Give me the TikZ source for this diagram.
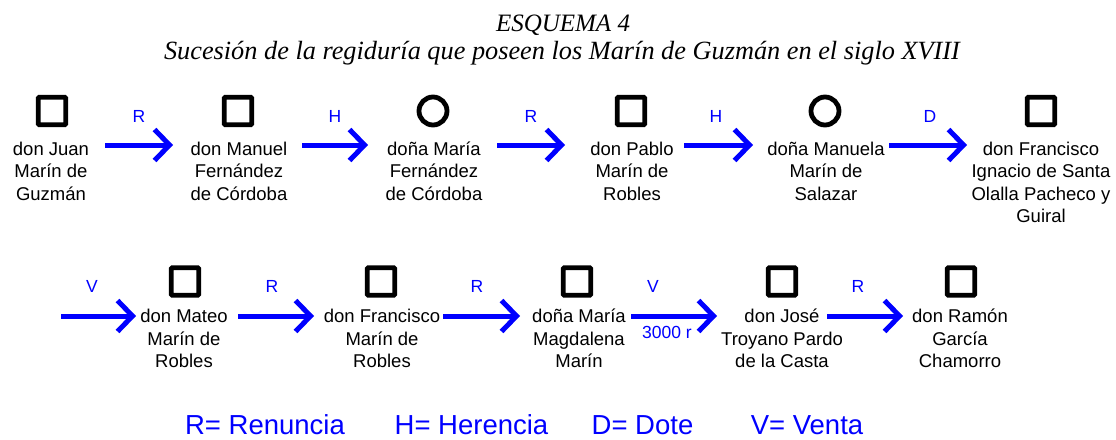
\documentclass[tikz,border=0pt]{standalone}
\usepackage{fontspec}
\setmainfont{Liberation Serif}
\newfontfamily\arialf{Liberation Sans}
\usetikzlibrary{arrows.meta}
\definecolor{myblue}{RGB}{0,0,255}
\begin{document}
\begin{tikzpicture}[x=1pt,y=-1pt,
  person/.style={anchor=north,align=center,inner sep=0pt,
    font=\arialf\fontsize{18.5}{22.5}\selectfont},
  sq/.style={draw,line width=4.8pt,minimum size=27.5pt,inner sep=0pt,rounded corners=1pt},
  circ/.style={draw,circle,line width=4.8pt,minimum size=28pt,inner sep=0pt},
  arr/.style={draw=myblue,line width=5pt,-{Straight Barb[length=15pt,width=31pt,line cap=butt,line join=miter]}},
  lab/.style={anchor=base,inner sep=0pt,text=myblue,font=\arialf\fontsize{17.5}{20}\selectfont},
  leg/.style={anchor=base,inner sep=0pt,text=myblue,font=\arialf\fontsize{27.5}{32}\selectfont},
  ttl/.style={anchor=base,inner sep=0pt,font=\itshape\fontsize{25}{30}\selectfont}]
\useasboundingbox (0,0) rectangle (1116,439);
% titles
\node[ttl] (t1) at (563,31) {ESQUEMA 4};
\node[ttl,font=\itshape\fontsize{26.3}{30}\selectfont] (t2) at (562,59) {Sucesión de la regiduría que poseen los Marín de Guzmán en el siglo XVIII};
% row 1 symbols
\node[sq] (s1) at (52,111) {};
\node[sq] (s2) at (238,111) {};
\node[circ] (s3) at (433,111) {};
\node[sq] (s4) at (631,111) {};
\node[circ] (s5) at (825,111) {};
\node[sq] (s6) at (1041,111) {};
% row 1 persons
\node[person] (p1) at (51,139.25) {\strut don Juan\\Marín de\\Guzmán};
\node[person] (p2) at (239,139.25) {\strut don Manuel\\Fernández\\de Córdoba};
\node[person] (p3) at (434,139.25) {\strut doña María\\Fernández\\de Córdoba};
\node[person] (p4) at (632,139.25) {\strut don Pablo\\Marín de\\Robles};
\node[person] (p5) at (826,139.25) {\strut doña Manuela\\Marín de\\Salazar};
\node[person] (p6) at (1041,139.25) {\strut don Francisco\\Ignacio de Santa\\Olalla Pacheco y\\Guiral};
% row 2 symbols
\node[sq] (s7) at (185,281.5) {};
\node[sq] (s8) at (381,281.5) {};
\node[sq] (s9) at (577,281.5) {};
\node[sq] (s10) at (782,281.5) {};
\node[sq] (s11) at (961,281.5) {};
% row 2 persons
\node[person] (p7) at (184,306.75) {\strut don Mateo\\Marín de\\Robles};
\node[person] (p8) at (382,306.75) {\strut don Francisco\\Marín de\\Robles};
\node[person] (p9) at (579,306.75) {\strut doña María\\Magdalena\\Marín};
\node[person] (p10) at (782,306.75) {\strut don José\\Troyano Pardo\\de la Casta};
\node[person] (p11) at (960,306.75) {\strut don Ramón\\García\\Chamorro};
% arrow end points
\coordinate (a1s) at (105,145); \coordinate (a1e) at (173,145);
\coordinate (a2s) at (302,145); \coordinate (a2e) at (368,145);
\coordinate (a3s) at (497,145); \coordinate (a3e) at (565,145);
\coordinate (a4s) at (684,145); \coordinate (a4e) at (753,145);
\coordinate (a5s) at (889,145); \coordinate (a5e) at (967,145);
\coordinate (a6s) at (61,316); \coordinate (a6e) at (136,316);
\coordinate (a7s) at (238,316); \coordinate (a7e) at (314,316);
\coordinate (a8s) at (443,316); \coordinate (a8e) at (520,316);
\coordinate (a9s) at (631,316); \coordinate (a9e) at (717,316);
\coordinate (a10s) at (827,316); \coordinate (a10e) at (903,316);
\draw[arr] (a1s) -- (a1e);
\draw[arr] (a2s) -- (a2e);
\draw[arr] (a3s) -- (a3e);
\draw[arr] (a4s) -- (a4e);
\draw[arr] (a5s) -- (a5e);
\draw[arr] (a6s) -- (a6e);
\draw[arr] (a7s) -- (a7e);
\draw[arr] (a8s) -- (a8e);
\draw[arr] (a9s) -- (a9e);
\draw[arr] (a10s) -- (a10e);
% arrow labels
\node[lab] (l1) at (139,122.7) {R};
\node[lab] (l2) at (335,122.7) {H};
\node[lab] (l3) at (531,122.7) {R};
\node[lab] (l4) at (716,122.7) {H};
\node[lab] (l5) at (930,122.7) {D};
\node[lab] (l6) at (92,292.5) {V};
\node[lab] (l7) at (272,292.5) {R};
\node[lab] (l8) at (477,292.5) {R};
\node[lab] (l9) at (653,292.5) {V};
\node[lab] (l9b) at (667,338) {3000 r};
\node[lab] (l10) at (858,292.5) {R};
% legend
\node[leg] (g1) at (265,434) {R= Renuncia};
\node[leg] (g2) at (471.5,434) {H= Herencia};
\node[leg] (g3) at (642.5,434) {D= Dote};
\node[leg] (g4) at (807,434) {V= Venta};
\end{tikzpicture}
\end{document}
